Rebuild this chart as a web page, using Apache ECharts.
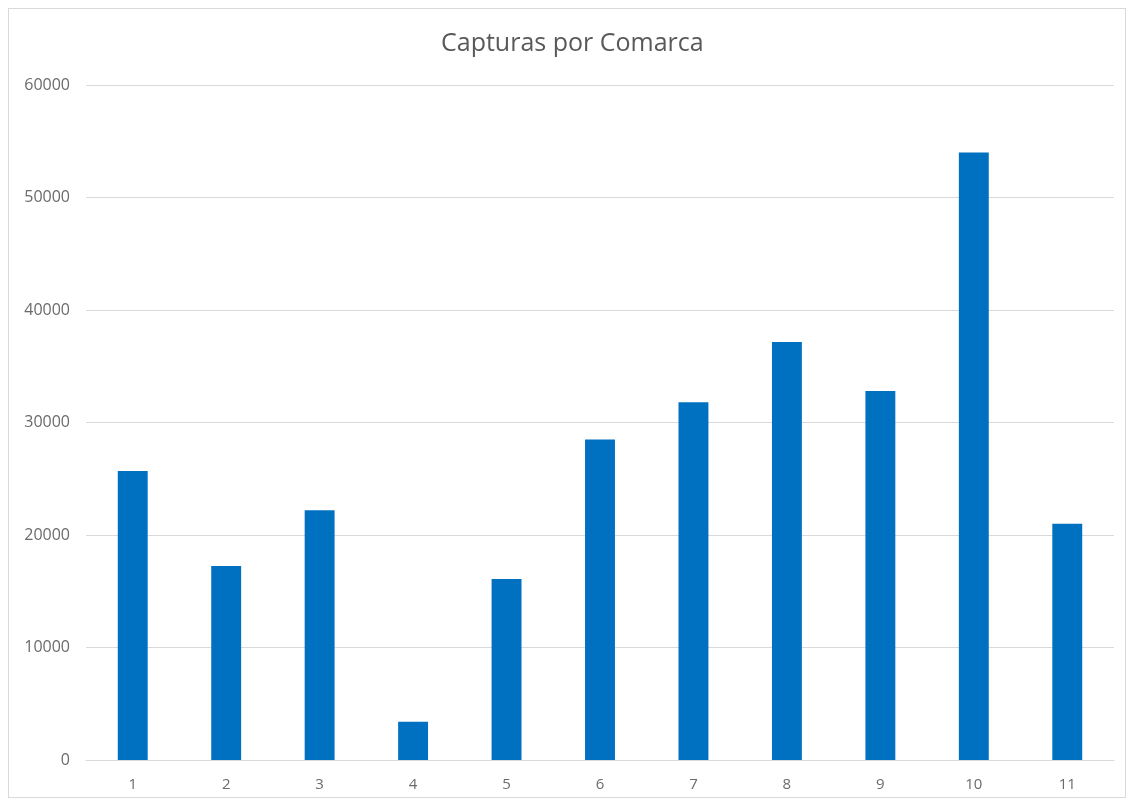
<!DOCTYPE html>
<html>
<head>
<meta charset="utf-8">
<script src="https://cdn.jsdelivr.net/npm/echarts@6/dist/echarts.min.js"></script>
<style>
html,body{margin:0;padding:0;background:#fff;}
#frame{position:absolute;left:8px;top:8px;width:1118px;height:790px;border:1px solid #d9d9d9;box-sizing:border-box;}
#chart{position:absolute;left:0;top:0;width:1131px;height:803px;}
</style>
</head>
<body>
<div id="frame"></div>
<div id="chart"></div>
<script>
const title = 'Capturas por Comarca';
const categories = ['1','2','3','4','5','6','7','8','9','10','11'];
const capturas = [25700, 17250, 22200, 3400, 16100, 28500, 31800, 37150, 32800, 54000, 21000];
const yTicks = [0, 10000, 20000, 30000, 40000, 50000, 60000];

const chart = echarts.init(document.getElementById('chart'), null, {renderer:'canvas'});
chart.setOption({
  animation:false,
  title:{text:title,left:441,top:31,padding:0,textStyle:{fontFamily:'Open Sans',fontSize:25,fontWeight:'normal',color:'#595959'}},
  grid:{left:86,right:17,top:85,bottom:43},
  xAxis:{type:'category',data:categories,
    axisLine:{lineStyle:{color:'#d9d9d9'}},axisTick:{show:false},
    axisLabel:{color:'#6b6b6b',fontFamily:'Open Sans',fontSize:15,margin:17}},
  yAxis:{type:'value',min:yTicks[0],max:yTicks[yTicks.length-1],interval:10000,
    axisLine:{show:false},axisTick:{show:false},
    splitLine:{lineStyle:{color:'#d9d9d9'}},
    axisLabel:{color:'#6b6b6b',fontFamily:'Open Sans',fontSize:16,margin:16,formatter:v=>String(v)}},
  series:[{type:'bar',data:capturas,barWidth:'32%',itemStyle:{color:'#0070C0'}}]
});
</script>
</body>
</html>
